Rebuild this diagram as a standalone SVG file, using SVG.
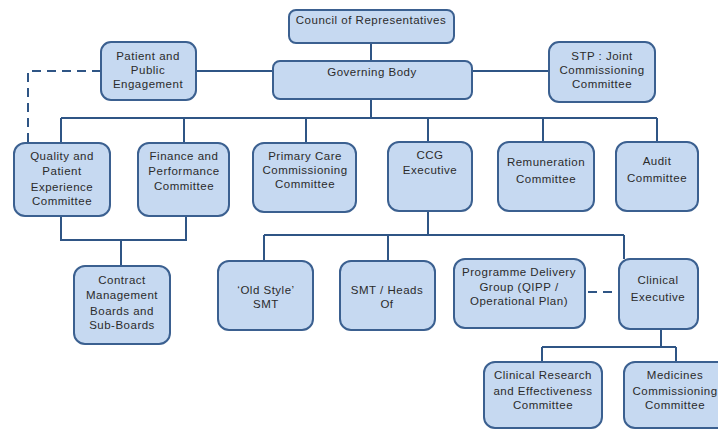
<svg xmlns="http://www.w3.org/2000/svg" width="718" height="430" viewBox="0 0 718 430">
<style>
.n rect{fill:#c6d9f1;stroke:#3b6090;stroke-width:2}
.n text{font-family:"Liberation Sans",Arial,sans-serif;font-size:11.5px;fill:#2b2b2b;text-anchor:middle;letter-spacing:0.5px}
.c path{fill:none;stroke:#2f5585;stroke-width:2}
.c .d{stroke-dasharray:9,6}
</style>
<rect width="718" height="430" fill="#ffffff"/>
<g class="c">
<path d="M371 43V61"/>
<path d="M196 71H273"/>
<path d="M472 71H549"/>
<path class="d" d="M101 71H28V143"/>
<path d="M371 99V118M61 118H657M61 118V143M184 118V143M306 118V143M428 118V142M543 118V142M657 118V142"/>
<path d="M61 216V240H186V216M121 240V266"/>
<path d="M428 211V235M264 235H624M264 235V261M388 235V261M624 235V259"/>
<path class="d" d="M588 292H619"/>
<path d="M661 329V347M542 347H676M542 347V362M676 347V362"/>
</g>
<g class="n" id="council"><rect x="289" y="10" width="165" height="33" rx="7"/><text x="371" y="24">Council of Representatives</text></g>
<g class="n" id="governing"><rect x="273" y="61" width="199" height="38" rx="7"/><text x="372" y="76">Governing Body</text></g>
<g class="n" id="ppe"><rect x="101" y="42" width="95" height="58" rx="10"/><text x="148" y="60">Patient and</text><text x="148" y="74">Public</text><text x="148" y="88">Engagement</text></g>
<g class="n" id="stp"><rect x="549" y="42" width="106" height="60" rx="10"/><text x="602" y="60">STP : Joint</text><text x="602" y="74">Commissioning</text><text x="602" y="88">Committee</text></g>
<g class="n" id="quality"><rect x="14" y="143" width="96" height="73" rx="11"/><text x="62" y="160">Quality and</text><text x="62" y="175">Patient</text><text x="62" y="191">Experience</text><text x="62" y="205">Committee</text></g>
<g class="n" id="finance"><rect x="138" y="143" width="91" height="73" rx="11"/><text x="184" y="160">Finance and</text><text x="184" y="175">Performance</text><text x="184" y="190">Committee</text></g>
<g class="n" id="primary"><rect x="253" y="143" width="103" height="69" rx="11"/><text x="305" y="160">Primary Care</text><text x="305" y="174">Commissioning</text><text x="305" y="188">Committee</text></g>
<g class="n" id="ccg"><rect x="388" y="142" width="84" height="69" rx="11"/><text x="430" y="159">CCG</text><text x="430" y="174">Executive</text></g>
<g class="n" id="remuneration"><rect x="498" y="142" width="96" height="69" rx="11"/><text x="546" y="166">Remuneration</text><text x="546" y="183">Committee</text></g>
<g class="n" id="audit"><rect x="616" y="142" width="82" height="69" rx="11"/><text x="657" y="165">Audit</text><text x="657" y="182">Committee</text></g>
<g class="n" id="contract"><rect x="74" y="266" width="96" height="78" rx="11"/><text x="122" y="284">Contract</text><text x="122" y="299">Management</text><text x="122" y="315">Boards and</text><text x="122" y="329">Sub-Boards</text></g>
<g class="n" id="oldstyle"><rect x="218" y="261" width="95" height="69" rx="11"/><text x="266" y="294">‘Old Style’</text><text x="266" y="308">SMT</text></g>
<g class="n" id="smt"><rect x="340" y="261" width="95" height="69" rx="11"/><text x="387" y="294">SMT / Heads</text><text x="387" y="308">Of</text></g>
<g class="n" id="pdg"><rect x="454" y="259" width="131" height="69" rx="11"/><text x="519" y="276">Programme Delivery</text><text x="519" y="291">Group (QIPP /</text><text x="519" y="305">Operational Plan)</text></g>
<g class="n" id="clinical"><rect x="619" y="259" width="79" height="70" rx="11"/><text x="658" y="284">Clinical</text><text x="658" y="301">Executive</text></g>
<g class="n" id="research"><rect x="484" y="362" width="118" height="66" rx="11"/><text x="543" y="379">Clinical Research</text><text x="543" y="395">and Effectiveness</text><text x="543" y="409">Committee</text></g>
<g class="n" id="medicines"><rect x="624" y="362" width="104" height="66" rx="11"/><text x="675" y="379">Medicines</text><text x="675" y="395">Commissioning</text><text x="675" y="409">Committee</text></g>
</svg>
